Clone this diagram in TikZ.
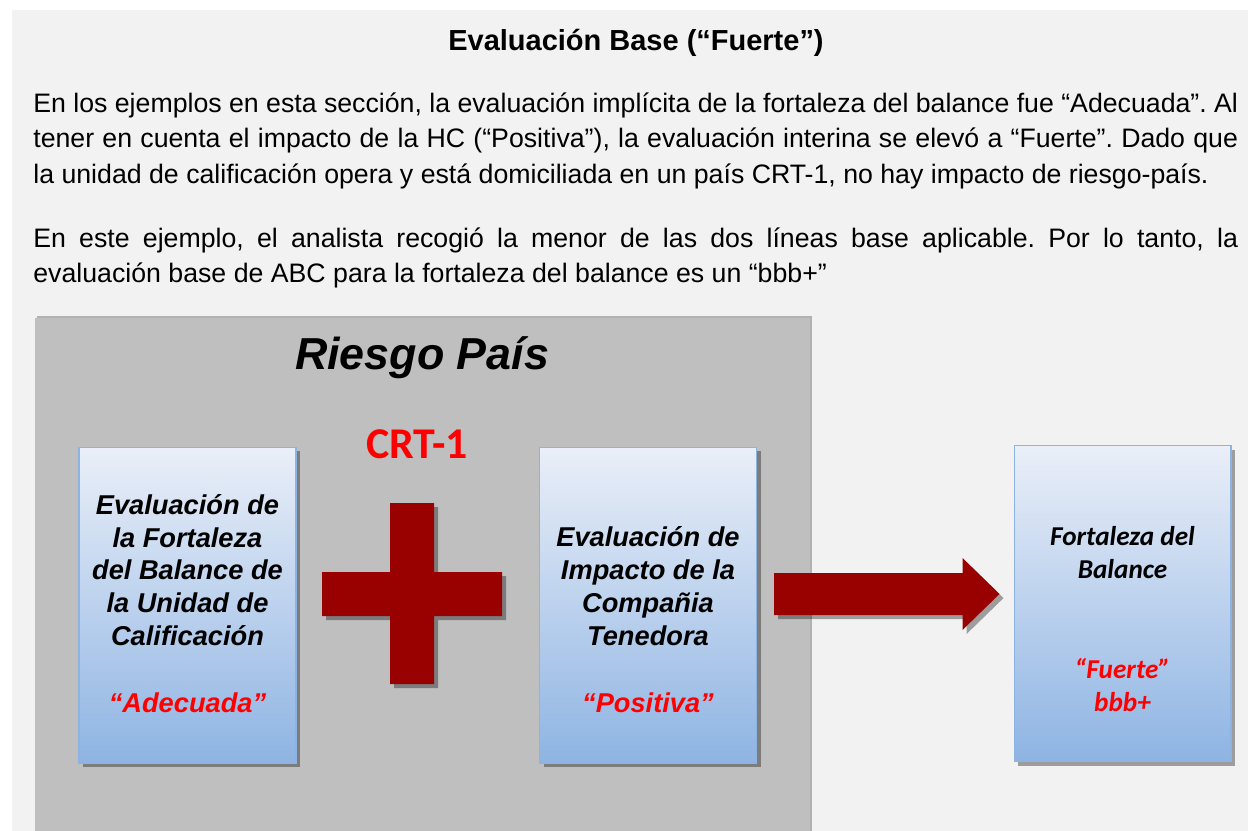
\documentclass[tikz,border=0pt]{standalone}
\usepackage{fontspec}
\setmainfont{Liberation Sans}
\newfontfamily\calib{Carlito}
\usepackage{tikz}
\usetikzlibrary{positioning,calc,shadows}
\definecolor{PageGray}{RGB}{242,242,242}
\definecolor{PanelGray}{RGB}{191,191,191}
\definecolor{CrossRed}{RGB}{153,0,0}
\definecolor{LabelRed}{RGB}{255,0,0}
\definecolor{BoxTop}{RGB}{234,239,248}
\definecolor{BoxBottom}{RGB}{142,180,227}
\definecolor{BoxEdge}{RGB}{141,179,226}
\newcommand{\parafont}{\fontsize{15.2}{20.4}\selectfont\frenchspacing
  \spaceskip=0.278em plus 0.3em minus 0.12em
  \hyphenpenalty=10000 \exhyphenpenalty=10000 \parindent=0pt }
\tikzset{
  softshadow/.style={drop shadow={shadow xshift=2.3pt,shadow yshift=-2.3pt,fill=black,opacity=.35}},
  evalbox/.style={draw=BoxEdge,line width=0.6pt,top color=BoxTop,bottom color=BoxBottom,
    minimum width=4.34cm,minimum height=6.32cm,inner sep=0pt,softshadow},
  boxtxt/.style={align=center,inner sep=0pt,font=\bfseries\itshape\fontsize{15.5}{18.7}\selectfont},
  calibtxt/.style={align=center,inner sep=0pt,font=\calib\bfseries\itshape\fontsize{15.5}{18.7}\selectfont},
  redtxt/.style={text=LabelRed},
  para/.style={anchor=north west,inner sep=0pt,text width=24.1cm,align=justify,font=\parafont},
}

\begin{document}
\begin{tikzpicture}[x=0.02cm,y=-0.02cm]
\useasboundingbox (0,0) rectangle (1248,831);
\fill[PageGray] (12,10) rectangle (1248,831);
% heading and text
\node[anchor=base,inner sep=0pt,font=\bfseries\fontsize{16.5}{20}\selectfont] (title) at (636,51)
  {Evaluación Base (“Fuerte”)};
\node[para] (p1) at (33,92) {En los ejemplos en esta sección, la evaluación implícita de la fortaleza
  del balance fue “Adecuada”. Al\linebreak tener en cuenta el impacto de la HC (“Positiva”), la evaluación
  interina se elevó a “Fuerte”. Dado que\linebreak la unidad de calificación opera y está domiciliada
  en un país CRT-1, no hay impacto de riesgo-país.};
\node[para] (p2) at (33,227) {En este ejemplo, el analista recogió la menor de las dos líneas base
  aplicable. Por lo tanto, la\linebreak evaluación base de ABC para la fortaleza del balance es un “bbb+”};
% riesgo pais panel
\fill[black!30] (37,316) rectangle (812,840);
\fill[PanelGray] (35,318) rectangle (810,840);
\node[anchor=base,inner sep=0pt,font=\bfseries\itshape\fontsize{25.5}{30}\selectfont] (riesgo) at (422,370)
  {Riesgo País};
\node[anchor=base,inner sep=0pt,text=LabelRed,font=\calib\bfseries\fontsize{25}{30}\selectfont] (crt) at (417,458)
  {CRT-1};
% boxes
\node[evalbox] (ub) at (187.5,605) {};
\node[evalbox] (hc) at (648,605) {};
\node[evalbox] (fb) at (1122.5,603.5) {};
\node[boxtxt] (ubtxt) at ($(ub.center)+(0,-35)$)
  {Evaluación de\\la Fortaleza\\del Balance de\\la Unidad de\\Calificación};
\node[boxtxt,redtxt] (ubval) at ($(ub.center)+(0,98)$) {“Adecuada”};
\node[boxtxt] (hctxt) at ($(hc.center)+(0,-19)$)
  {Evaluación de\\Impacto de la\\Compañia\\Tenedora};
\node[boxtxt,redtxt] (hcval) at ($(hc.center)+(0,98)$) {“Positiva”};
\node[calibtxt] (fbtxt) at ($(fb.center)+(0,-51)$) {Fortaleza del\\Balance};
\node[calibtxt,redtxt] (fbval) at ($(fb.center)+(0,81.5)$) {“Fuerte”\\bbb+};
% plus sign
\coordinate (cr) at (412,594);
\fill[CrossRed,softshadow] ($(cr)+(-22,-91)$) -- ($(cr)+(22,-91)$) -- ($(cr)+(22,-22)$)
  -- ($(cr)+(90,-22)$) -- ($(cr)+(90,22)$) -- ($(cr)+(22,22)$) -- ($(cr)+(22,90)$)
  -- ($(cr)+(-22,90)$) -- ($(cr)+(-22,22)$) -- ($(cr)+(-90,22)$) -- ($(cr)+(-90,-22)$)
  -- ($(cr)+(-22,-22)$) -- cycle;
% block arrow
\coordinate (a0) at ($(hc.east)+(17,-11)$);
\coordinate (a1) at ($(fb.west)+(-14,-9.5)$);
\fill[CrossRed,softshadow] ($(a0)+(0,-21)$) -- ($(a1)+(-37,-21)$) -- ($(a1)+(-37,-36)$) -- (a1)
  -- ($(a1)+(-37,36)$) -- ($(a1)+(-37,21)$) -- ($(a0)+(0,21)$) -- cycle;
\end{tikzpicture}
\end{document}
